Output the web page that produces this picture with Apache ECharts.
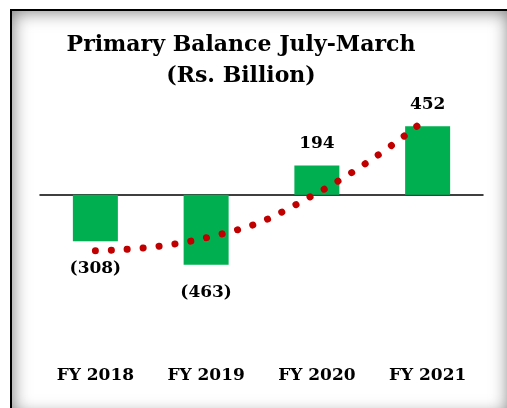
<!DOCTYPE html>
<html>
<head>
<meta charset="utf-8">
<script src="https://cdn.jsdelivr.net/npm/echarts@6/dist/echarts.min.js"></script>
<style>
  html, body { margin: 0; padding: 0; background: #fff; overflow: hidden; }
  #frame {
    position: absolute; left: 10px; top: 9px; width: 497px; height: 405px;
    border-top: 2px solid #000; border-left: 2px solid #000;
    box-shadow: inset 0 0 18px rgba(0, 0, 0, 0.55);
  }
  #chart { position: absolute; left: 0; top: 0; width: 507px; height: 408px; }
</style>
</head>
<body>
<div id="frame"></div>
<div id="chart"></div>
<script>
// values
var years = ['FY 2018', 'FY 2019', 'FY 2020', 'FY 2021']
var balance = [-308, -463, 194, 452]
var trend = [-370, -285, 10, 510] // dotted trendline, read at each year

var chart = echarts.init(document.getElementById('chart'))
var serif = '"DejaVu Serif", serif'

chart.setOption({
  animation: false,
  graphic: [
    {
      type: 'text',
      x: 241,
      y: 61,
      style: {
        text: 'Primary Balance July-March\n(Rs. Billion)',
        align: 'center',
        verticalAlign: 'middle',
        font: 'bold 22px ' + serif,
        lineHeight: 31,
        fill: '#000'
      }
    }
  ],
  grid: {
    left: 40,
    right: 24,
    top: 104,
    height: 257
  },
  xAxis: [
    {
      type: 'category',
      data: years,
      axisLine: {
        onZero: true,
        lineStyle: { color: '#000', width: 1.5 }
      },
      axisTick: { show: false },
      axisLabel: { show: false }
    },
    {
      type: 'category',
      data: years,
      position: 'bottom',
      axisLine: { show: false, onZero: false },
      axisTick: { show: false },
      axisLabel: {
        margin: 6,
        color: '#000',
        fontFamily: serif,
        fontWeight: 'bold',
        fontSize: 17
      }
    }
  ],
  yAxis: {
    type: 'value',
    min: -1100,
    max: 600,
    show: false,
    splitLine: { show: false }
  },
  series: [
    {
      type: 'bar',
      barWidth: 45,
      itemStyle: { color: '#00B050' },
      label: {
        show: true,
        color: '#000',
        fontFamily: serif,
        fontWeight: 'bold',
        fontSize: 17,
        formatter: function (p) {
          return p.value < 0 ? '(' + Math.abs(p.value) + ')' : p.value
        }
      },
      data: balance.map(function (v) {
        return {
          value: v,
          label: v < 0 ? { position: 'bottom', distance: 19 } : { position: 'top', distance: 13 }
        }
      })
    },
    {
      type: 'line',
      smooth: true,
      symbol: 'none',
      z: 5,
      lineStyle: {
        color: '#C00000',
        width: 7,
        type: [0.1, 15.9],
        cap: 'round'
      },
      data: trend
    }
  ]
})
</script>
</body>
</html>
